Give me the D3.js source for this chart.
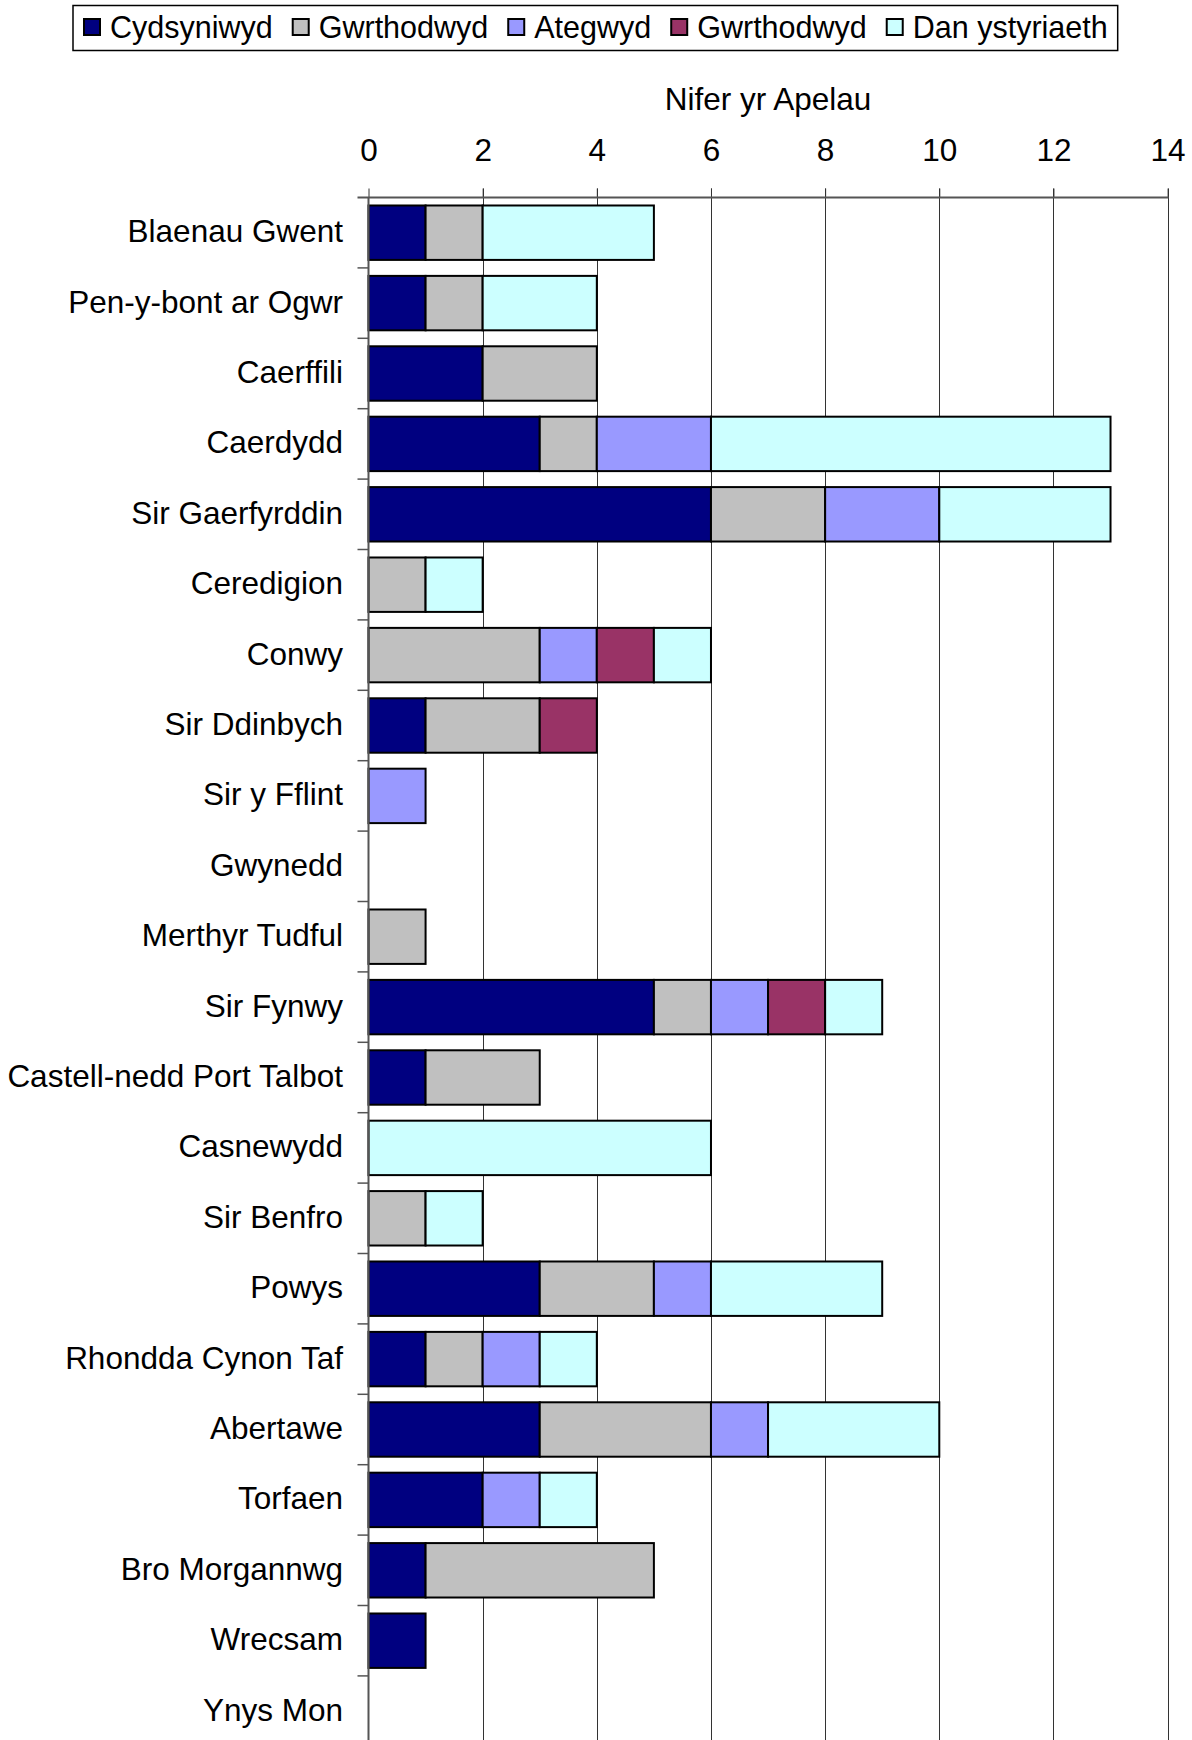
<!DOCTYPE html>
<html>
<head>
<meta charset="utf-8">
<script src="https://cdn.jsdelivr.net/npm/d3@7"></script>
<style>
  body { margin: 0; background: #fff; }
  svg text { font-family: "Liberation Sans", Arial, sans-serif; fill: #000; }
</style>
</head>
<body>
<div id="vis"></div>
<script>
// datos
const categories = [
  "Blaenau Gwent", "Pen-y-bont ar Ogwr", "Caerffili", "Caerdydd", "Sir Gaerfyrddin",
  "Ceredigion", "Conwy", "Sir Ddinbych", "Sir y Fflint", "Gwynedd", "Merthyr Tudful",
  "Sir Fynwy", "Castell-nedd Port Talbot", "Casnewydd", "Sir Benfro", "Powys",
  "Rhondda Cynon Taf", "Abertawe", "Torfaen", "Bro Morgannwg", "Wrecsam", "Ynys Mon"
];
const seriesNames = ["Cydsyniwyd", "Gwrthodwyd", "Ategwyd", "Gwrthodwyd", "Dan ystyriaeth"];
const seriesColors = ["#000080", "#C0C0C0", "#9999FF", "#993366", "#CCFFFF"];

const cydsyniwyd =    [1, 1, 2, 3, 6, 0, 0, 1, 0, 0, 0, 5, 1, 0, 0, 3, 1, 3, 2, 1, 1, 0];
const gwrthodwyd =    [1, 1, 2, 1, 2, 1, 3, 2, 0, 0, 1, 1, 2, 0, 1, 2, 1, 3, 0, 4, 0, 0];
const ategwyd =       [0, 0, 0, 2, 2, 0, 1, 0, 1, 0, 0, 1, 0, 0, 0, 1, 1, 1, 1, 0, 0, 0];
const gwrthodwyd2 =   [0, 0, 0, 0, 0, 0, 1, 1, 0, 0, 0, 1, 0, 0, 0, 0, 0, 0, 0, 0, 0, 0];
const danYstyriaeth = [3, 2, 0, 7, 3, 1, 1, 0, 0, 0, 0, 1, 0, 6, 1, 3, 1, 3, 1, 0, 0, 0];
const xTicks = [0, 2, 4, 6, 8, 10, 12, 14];

const WIDTH = 1192;
const HEIGHT = 1740;
const FONT = 31.5;
const LEGEND_FONT = 30.5;
const PLOT = { left: 368.5, right: 1167.6, top: 197.5, step: 70.4 };

const svg = d3.select("#vis").append("svg").attr("width", WIDTH).attr("height", HEIGHT);

const keys = ["c", "g", "a", "g2", "d"];
const values = [cydsyniwyd, gwrthodwyd, ategwyd, gwrthodwyd2, danYstyriaeth];
const table = categories.map((cat, i) => {
  const row = { cat };
  keys.forEach((k, j) => row[k] = values[j][i]);
  return row;
});
const stacked = d3.stack().keys(keys)(table);

const x = d3.scaleLinear().domain([0, 14]).range([PLOT.left, PLOT.right]);
const y = d3.scaleBand()
  .domain(categories)
  .range([PLOT.top, PLOT.top + PLOT.step * categories.length])
  .paddingInner(0.227)
  .paddingOuter(0.1135);

// lineas de la grilla
svg.append("g")
  .selectAll("line")
  .data(xTicks.slice(1))
  .join("line")
  .attr("x1", d => Math.round(x(d)) + 0.5)
  .attr("x2", d => Math.round(x(d)) + 0.5)
  .attr("y1", PLOT.top - 9)
  .attr("y2", HEIGHT)
  .attr("stroke", "#333")
  .attr("stroke-width", 1);

// eje superior
const xAxis = d3.axisTop(x).tickValues(xTicks).tickSize(9).tickPadding(28);
const gx = svg.append("g").attr("transform", `translate(0, ${PLOT.top})`).call(xAxis);
gx.select(".domain").remove();
gx.selectAll(".tick line").attr("stroke", "#333");
gx.selectAll("text").attr("font-size", FONT).attr("font-family", "Liberation Sans, Arial, sans-serif");
svg.append("line")
  .attr("x1", PLOT.left - 11).attr("x2", PLOT.right + 1)
  .attr("y1", PLOT.top).attr("y2", PLOT.top)
  .attr("stroke", "#555").attr("stroke-width", 2);

svg.append("text")
  .attr("x", (PLOT.left + PLOT.right) / 2)
  .attr("y", 110)
  .attr("text-anchor", "middle")
  .attr("font-size", FONT)
  .text("Nifer yr Apelau");

// barras
svg.append("g")
  .selectAll("g")
  .data(stacked)
  .join("g")
  .attr("fill", (d, i) => seriesColors[i])
  .selectAll("rect")
  .data(d => d.filter(s => s[1] - s[0] > 0))
  .join("rect")
  .attr("x", d => x(d[0]))
  .attr("y", d => y(d.data.cat))
  .attr("width", d => x(d[1]) - x(d[0]))
  .attr("height", y.bandwidth())
  .attr("stroke", "#000")
  .attr("stroke-width", 2);

// eje de categorias
svg.append("line")
  .attr("x1", PLOT.left).attr("x2", PLOT.left)
  .attr("y1", PLOT.top).attr("y2", HEIGHT)
  .attr("stroke", "#555").attr("stroke-width", 2);
svg.append("g")
  .selectAll("line")
  .data(categories)
  .join("line")
  .attr("x1", PLOT.left - 11).attr("x2", PLOT.left)
  .attr("y1", d => y(d) + y.bandwidth() + y.step() * y.paddingInner() / 2)
  .attr("y2", d => y(d) + y.bandwidth() + y.step() * y.paddingInner() / 2)
  .attr("stroke", "#555").attr("stroke-width", 1.5);
svg.append("g")
  .selectAll("text")
  .data(categories)
  .join("text")
  .attr("x", 343)
  .attr("y", d => y(d) + y.bandwidth() / 2)
  .attr("dy", "0.3em")
  .attr("text-anchor", "end")
  .attr("font-size", FONT)
  .text(d => d);

// leyenda
const legend = svg.append("g");
const legendBox = legend.append("rect")
  .attr("fill", "#fff").attr("stroke", "#000").attr("stroke-width", 1.5);
let lx = 84;
seriesNames.forEach((name, i) => {
  legend.append("rect")
    .attr("x", lx).attr("y", 19).attr("width", 16).attr("height", 16)
    .attr("fill", seriesColors[i]).attr("stroke", "#000").attr("stroke-width", 2);
  const t = legend.append("text")
    .attr("x", lx + 26).attr("y", 38)
    .attr("font-size", LEGEND_FONT)
    .text(name);
  lx += 26 + t.node().getComputedTextLength() + 20;
});
legendBox.attr("x", 73).attr("y", 5.5).attr("width", lx - 20 + 10 - 73).attr("height", 45);
</script>
</body>
</html>
